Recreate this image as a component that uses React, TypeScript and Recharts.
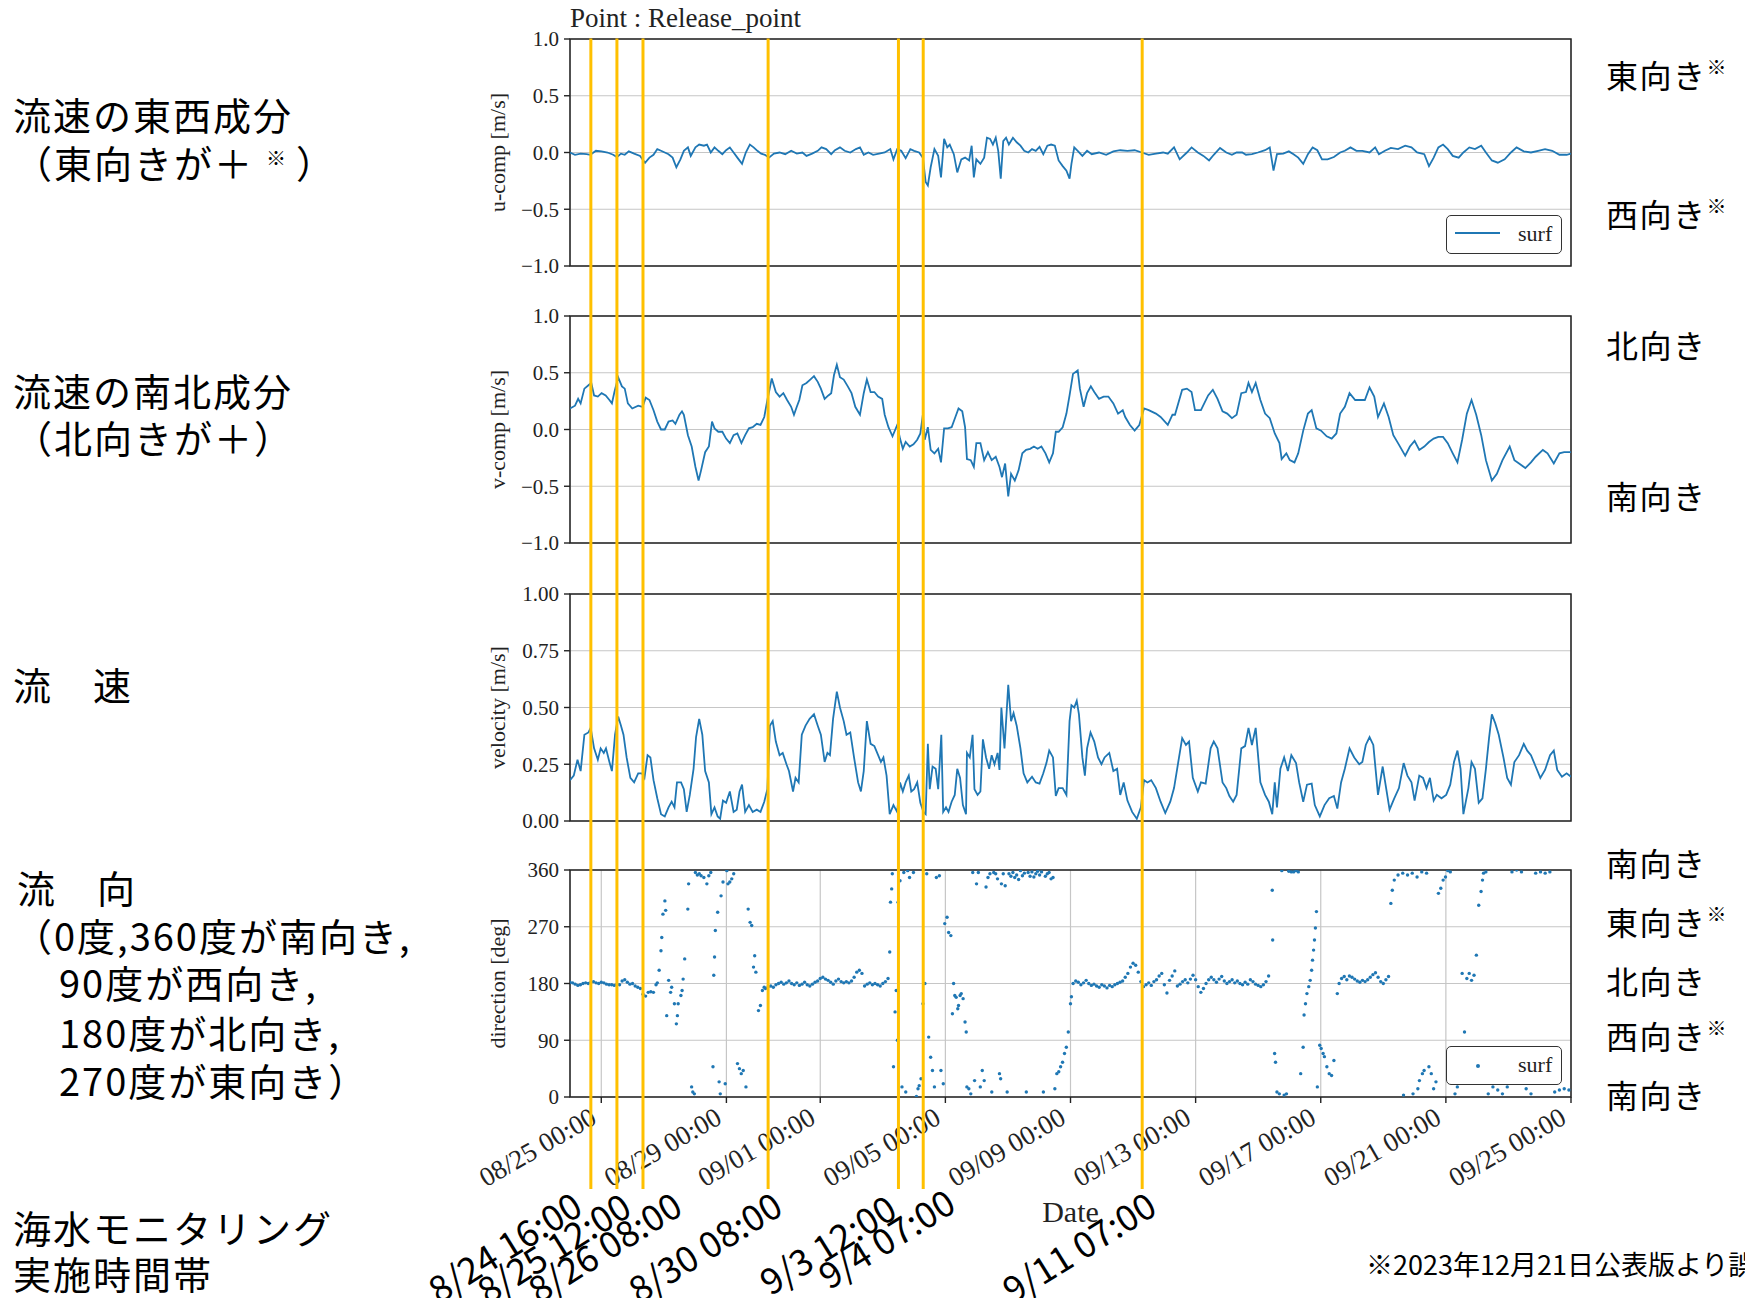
import React from 'react';
import {
  LineChart, Line, ScatterChart, Scatter, ComposedChart, XAxis, YAxis,
  CartesianGrid, ReferenceArea, ReferenceLine, Legend,
} from 'recharts';

// ---------- data (time in days since 08/24 00:00 unless noted) ----------
const DATE_TICKS = [1, 5, 8, 12, 16, 20, 24, 28, 32];
const DATE_LABELS = ['08/25 00:00', '08/29 00:00', '09/01 00:00', '09/05 00:00', '09/09 00:00', '09/13 00:00', '09/17 00:00', '09/21 00:00', '09/25 00:00'];
const COMP_TICKS = [-1, -0.5, 0, 0.5, 1];
const SPEED_TICKS = [0, 0.25, 0.5, 0.75, 1];
const DIR_TICKS = [0, 90, 180, 270, 360];

const MONITOR_DAYS = [0.6667, 1.5, 2.3333, 6.3333, 10.5, 11.2917, 18.2917];
const MONITOR_LABELS = ['8/24 16:00', '8/25 12:00', '8/26 08:00', '8/30 08:00', '9/3 12:00', '9/4 07:00', '9/11 07:00'];

const U_COMP: [number, number][] = [
  [0.00,0],[0.16,-0.02],[0.34,-0.01],[0.53,-0.015],[0.65,-0.02],[0.83,0.015],[1.01,0.01],[1.20,0],[1.38,-0.02],[1.50,-0.04],
  [1.63,-0.01],[1.75,-0.02],[1.88,0.01],[2.05,-0.01],[2.24,-0.03],[2.40,-0.09],[2.54,-0.045],[2.67,-0.02],[2.79,0.03],[2.91,0.015],
  [3.03,0],[3.15,-0.015],[3.28,-0.045],[3.40,-0.13],[3.53,-0.06],[3.64,0.015],[3.77,0.045],[3.86,-0.03],[4.01,0.045],[4.13,0.07],
  [4.28,0.06],[4.38,0.07],[4.50,0],[4.62,0.045],[4.74,0.015],[4.87,-0.015],[4.99,0.02],[5.11,0.045],[5.23,0],[5.35,-0.045],
  [5.50,-0.10],[5.62,0],[5.75,0.07],[5.87,0.045],[5.99,0.015],[6.11,-0.01],[6.23,-0.02],[6.36,-0.045],[6.52,-0.01],[6.70,0],
  [6.88,-0.015],[7.07,0.015],[7.25,-0.01],[7.43,0],[7.56,-0.03],[7.74,-0.01],[7.92,0.015],[8.04,0.045],[8.19,0.03],[8.35,-0.015],
  [8.47,0.02],[8.63,0.045],[8.78,0.015],[8.96,0],[9.14,0.03],[9.27,0.045],[9.39,-0.02],[9.54,0],[9.69,-0.02],[9.88,-0.01],
  [10.06,0],[10.24,0.03],[10.34,-0.06],[10.46,0.03],[10.59,0.015],[10.73,-0.05],[10.88,0.03],[11.00,0.015],[11.16,0],[11.28,-0.045],
  [11.37,-0.26],[11.44,-0.29],[11.53,-0.13],[11.65,0.03],[11.77,-0.03],[11.86,-0.22],[11.96,0.12],[12.06,0.045],[12.14,0.07],[12.27,-0.015],
  [12.38,-0.175],[12.51,-0.06],[12.63,-0.045],[12.76,-0.07],[12.84,0.06],[12.91,-0.22],[12.99,-0.06],[13.12,-0.10],[13.24,-0.045],[13.33,0.13],
  [13.43,0.12],[13.52,0.07],[13.61,0.13],[13.69,0.015],[13.77,-0.23],[13.85,0.10],[13.94,0.13],[14.03,0.07],[14.16,0.13],[14.28,0.09],
  [14.40,0.06],[14.52,0.015],[14.65,0],[14.77,0.03],[14.89,0.015],[15.01,0.05],[15.13,-0.015],[15.26,0.06],[15.38,0.07],[15.50,0.06],
  [15.62,-0.07],[15.75,-0.12],[15.87,-0.16],[15.97,-0.23],[16.03,-0.10],[16.12,0.045],[16.23,0.015],[16.38,-0.03],[16.53,0.015],[16.68,-0.015],
  [16.91,0],[17.14,-0.02],[17.37,0.01],[17.59,0.02],[17.82,0.015],[18.05,0.02],[18.28,0],[18.50,-0.02],[18.73,-0.01],[18.96,0],
  [19.11,-0.01],[19.31,0.045],[19.49,-0.06],[19.72,0],[19.87,0.045],[20.07,0],[20.25,-0.03],[20.43,-0.07],[20.58,-0.02],[20.78,0.04],
  [20.98,0],[21.16,-0.02],[21.31,0],[21.49,0],[21.61,-0.02],[21.80,-0.015],[21.99,0],[22.22,0.02],[22.37,0.045],[22.49,-0.16],
  [22.60,-0.015],[22.80,-0.01],[22.98,0.01],[23.13,-0.015],[23.28,-0.045],[23.44,-0.10],[23.59,-0.015],[23.74,0.045],[23.89,0.02],[24.04,-0.06],
  [24.22,-0.06],[24.42,-0.04],[24.62,0],[24.77,0.015],[24.95,0.045],[25.14,0.015],[25.33,0.015],[25.56,0],[25.74,0.045],[25.86,-0.015],
  [26.05,0.015],[26.24,0.04],[26.47,0.03],[26.70,0.06],[26.90,0.045],[27.08,0],[27.31,-0.015],[27.46,-0.12],[27.61,-0.045],[27.76,0.045],
  [27.91,0.07],[28.06,0.03],[28.22,-0.03],[28.41,-0.045],[28.56,0],[28.75,0.045],[28.93,0.03],[29.13,0.06],[29.28,0],[29.47,-0.07],
  [29.66,-0.09],[29.88,-0.06],[30.08,0],[30.26,0.045],[30.49,0.01],[30.72,0],[30.95,0.015],[31.17,0.03],[31.40,0.015],[31.63,-0.02],
  [31.86,-0.02],[32.00,-0.01],
];

const V_COMP: [number, number][] = [
  [0.00,0.185],[0.16,0.21],[0.26,0.27],[0.34,0.23],[0.46,0.36],[0.59,0.39],[0.68,0.41],[0.77,0.30],[0.89,0.29],[1.01,0.32],
  [1.14,0.30],[1.26,0.26],[1.34,0.23],[1.42,0.33],[1.54,0.46],[1.66,0.38],[1.75,0.36],[1.85,0.23],[1.99,0.185],[2.18,0.21],
  [2.32,0.20],[2.42,0.28],[2.54,0.26],[2.67,0.17],[2.79,0.07],[2.91,0.0],[3.03,0.0],[3.15,0.07],[3.28,0.08],[3.37,0.05],
  [3.50,0.13],[3.58,0.16],[3.64,0.13],[3.77,-0.05],[3.89,-0.15],[4.01,-0.33],[4.11,-0.45],[4.19,-0.36],[4.32,-0.20],[4.44,-0.15],
  [4.54,0.07],[4.62,0.01],[4.74,-0.02],[4.87,-0.02],[4.99,-0.08],[5.11,-0.12],[5.23,-0.05],[5.35,-0.035],[5.48,-0.12],[5.60,-0.05],
  [5.72,0.01],[5.84,0.02],[5.97,0.05],[6.09,0.04],[6.21,0.11],[6.31,0.26],[6.45,0.45],[6.58,0.33],[6.70,0.29],[6.82,0.32],
  [6.94,0.26],[7.07,0.20],[7.16,0.13],[7.25,0.20],[7.33,0.26],[7.43,0.39],[7.56,0.41],[7.68,0.44],[7.80,0.47],[7.92,0.42],
  [8.02,0.36],[8.14,0.27],[8.26,0.30],[8.35,0.32],[8.44,0.48],[8.53,0.57],[8.63,0.46],[8.75,0.44],[8.88,0.38],[9.00,0.32],
  [9.12,0.20],[9.27,0.13],[9.39,0.32],[9.49,0.44],[9.61,0.33],[9.73,0.33],[9.85,0.29],[9.98,0.27],[10.06,0.13],[10.18,0.02],
  [10.31,-0.06],[10.46,0.04],[10.55,-0.08],[10.64,-0.17],[10.73,-0.11],[10.86,-0.15],[10.98,-0.13],[11.10,-0.09],[11.20,-0.035],[11.28,0.13],
  [11.34,-0.09],[11.44,0.02],[11.53,-0.18],[11.65,-0.21],[11.77,-0.17],[11.86,-0.29],[11.96,0.01],[12.08,0.01],[12.20,0.02],[12.32,0.11],
  [12.42,0.185],[12.54,0.16],[12.63,0.02],[12.69,-0.26],[12.81,-0.27],[12.91,-0.33],[12.99,-0.12],[13.12,-0.12],[13.24,-0.27],[13.36,-0.20],
  [13.48,-0.27],[13.61,-0.24],[13.73,-0.33],[13.81,-0.42],[13.91,-0.30],[14.01,-0.59],[14.10,-0.39],[14.22,-0.45],[14.34,-0.36],[14.46,-0.21],
  [14.58,-0.18],[14.71,-0.17],[14.83,-0.15],[14.95,-0.17],[15.07,-0.15],[15.20,-0.21],[15.32,-0.29],[15.44,-0.21],[15.53,-0.02],[15.62,-0.02],
  [15.75,0.02],[15.87,0.14],[15.97,0.30],[16.08,0.49],[16.23,0.52],[16.30,0.36],[16.42,0.20],[16.53,0.32],[16.65,0.38],[16.76,0.33],
  [16.91,0.27],[17.06,0.29],[17.21,0.29],[17.37,0.23],[17.52,0.14],[17.67,0.17],[17.75,0.11],[17.90,0.04],[18.05,-0.01],[18.20,0.04],
  [18.35,0.185],[18.50,0.17],[18.73,0.14],[18.88,0.11],[19.11,0.04],[19.26,0.13],[19.34,0.13],[19.57,0.35],[19.72,0.36],[19.87,0.33],
  [19.98,0.17],[20.17,0.17],[20.40,0.30],[20.55,0.35],[20.70,0.27],[20.86,0.16],[21.01,0.14],[21.16,0.10],[21.31,0.13],[21.46,0.32],
  [21.61,0.33],[21.69,0.41],[21.80,0.33],[21.92,0.41],[22.07,0.26],[22.22,0.14],[22.37,0.10],[22.53,-0.035],[22.68,-0.12],[22.75,-0.26],
  [22.90,-0.21],[23.01,-0.27],[23.16,-0.29],[23.28,-0.21],[23.44,-0.01],[23.59,0.14],[23.71,0.17],[23.86,0.01],[24.01,-0.01],[24.19,-0.06],
  [24.35,-0.08],[24.50,-0.035],[24.62,0.14],[24.77,0.20],[24.92,0.32],[25.10,0.26],[25.26,0.26],[25.41,0.26],[25.56,0.37],[25.71,0.29],
  [25.83,0.11],[26.02,0.23],[26.17,0.11],[26.32,-0.05],[26.47,-0.12],[26.70,-0.23],[26.85,-0.15],[27.00,-0.10],[27.15,-0.18],[27.31,-0.15],
  [27.46,-0.11],[27.61,-0.08],[27.76,-0.065],[27.91,-0.065],[28.06,-0.12],[28.22,-0.21],[28.37,-0.29],[28.52,-0.09],[28.67,0.14],[28.82,0.26],
  [28.97,0.13],[29.13,-0.05],[29.28,-0.27],[29.47,-0.45],[29.63,-0.39],[29.81,-0.27],[30.04,-0.15],[30.19,-0.27],[30.34,-0.30],[30.54,-0.34],
  [30.72,-0.29],[30.87,-0.24],[31.10,-0.18],[31.25,-0.21],[31.45,-0.30],[31.63,-0.21],[31.78,-0.20],[32.00,-0.20],
];

const SPEED: [number, number][] = [
  [0.00,0.18],[0.12,0.20],[0.24,0.27],[0.34,0.22],[0.46,0.38],[0.59,0.39],[0.66,0.41],[0.77,0.32],[0.89,0.27],[0.98,0.32],
  [1.08,0.30],[1.15,0.32],[1.26,0.26],[1.34,0.22],[1.44,0.38],[1.54,0.46],[1.63,0.42],[1.71,0.38],[1.81,0.28],[1.93,0.19],
  [2.05,0.17],[2.18,0.21],[2.30,0.21],[2.38,0.19],[2.48,0.29],[2.57,0.28],[2.67,0.18],[2.79,0.10],[2.91,0.03],[3.03,0.02],
  [3.15,0.06],[3.25,0.085],[3.34,0.06],[3.42,0.17],[3.55,0.17],[3.64,0.14],[3.73,0.04],[3.83,0.115],[3.95,0.23],[4.03,0.37],
  [4.13,0.45],[4.23,0.38],[4.32,0.22],[4.44,0.17],[4.52,0.03],[4.62,0.06],[4.72,0.02],[4.80,0.01],[4.89,0.09],[4.99,0.08],
  [5.11,0.13],[5.23,0.04],[5.33,0.05],[5.42,0.13],[5.50,0.16],[5.60,0.04],[5.72,0.07],[5.84,0.04],[5.97,0.05],[6.09,0.04],
  [6.21,0.085],[6.31,0.14],[6.39,0.42],[6.48,0.44],[6.58,0.35],[6.70,0.29],[6.80,0.30],[6.92,0.25],[7.00,0.22],[7.13,0.13],
  [7.21,0.19],[7.31,0.17],[7.41,0.38],[7.53,0.42],[7.66,0.45],[7.80,0.47],[7.92,0.42],[8.02,0.38],[8.14,0.26],[8.23,0.30],
  [8.31,0.29],[8.41,0.45],[8.53,0.57],[8.63,0.50],[8.75,0.44],[8.84,0.38],[8.96,0.39],[9.08,0.28],[9.21,0.17],[9.30,0.13],
  [9.39,0.22],[9.49,0.44],[9.61,0.34],[9.73,0.33],[9.85,0.29],[9.94,0.26],[10.02,0.28],[10.12,0.20],[10.22,0.03],[10.34,0.07],
  [10.46,0.04],[10.55,0.17],[10.64,0.13],[10.73,0.17],[10.83,0.20],[10.91,0.13],[11.00,0.14],[11.10,0.17],[11.20,0.08],[11.30,0.04],
  [11.37,0.03],[11.44,0.34],[11.50,0.14],[11.59,0.24],[11.69,0.23],[11.77,0.14],[11.87,0.38],[11.93,0.04],[12.02,0.06],[12.10,0.04],
  [12.20,0.085],[12.30,0.115],[12.38,0.23],[12.47,0.19],[12.56,0.07],[12.66,0.03],[12.69,0.30],[12.78,0.28],[12.87,0.38],[12.93,0.14],
  [13.03,0.115],[13.12,0.13],[13.20,0.36],[13.30,0.28],[13.40,0.23],[13.48,0.29],[13.57,0.25],[13.67,0.30],[13.73,0.225],[13.79,0.50],
  [13.89,0.32],[14.01,0.60],[14.10,0.44],[14.18,0.475],[14.28,0.42],[14.40,0.32],[14.50,0.21],[14.62,0.17],[14.77,0.195],[14.89,0.17],
  [15.01,0.165],[15.13,0.21],[15.23,0.255],[15.32,0.31],[15.44,0.28],[15.53,0.11],[15.62,0.145],[15.75,0.145],[15.87,0.115],[15.97,0.44],
  [16.03,0.51],[16.12,0.50],[16.20,0.53],[16.27,0.47],[16.38,0.28],[16.46,0.20],[16.53,0.32],[16.64,0.39],[16.76,0.35],[16.88,0.28],
  [16.99,0.25],[17.09,0.28],[17.24,0.30],[17.37,0.22],[17.49,0.23],[17.59,0.115],[17.70,0.17],[17.82,0.09],[17.97,0.04],[18.12,0.01],
  [18.25,0.06],[18.35,0.18],[18.46,0.17],[18.58,0.18],[18.73,0.145],[18.88,0.085],[19.03,0.035],[19.19,0.085],[19.31,0.145],[19.41,0.23],
  [19.57,0.365],[19.69,0.335],[19.79,0.35],[19.91,0.19],[20.07,0.13],[20.17,0.17],[20.32,0.165],[20.48,0.32],[20.58,0.35],[20.70,0.32],
  [20.86,0.17],[20.98,0.145],[21.08,0.11],[21.20,0.085],[21.31,0.115],[21.46,0.32],[21.58,0.33],[21.69,0.41],[21.80,0.335],[21.92,0.41],
  [22.07,0.17],[22.22,0.115],[22.34,0.085],[22.45,0.03],[22.53,0.17],[22.60,0.06],[22.71,0.23],[22.83,0.28],[22.95,0.22],[23.06,0.29],
  [23.21,0.255],[23.31,0.17],[23.44,0.085],[23.56,0.16],[23.71,0.165],[23.81,0.07],[23.97,0.02],[24.12,0.07],[24.27,0.10],[24.42,0.11],
  [24.53,0.055],[24.65,0.17],[24.77,0.23],[24.92,0.32],[25.07,0.28],[25.23,0.25],[25.33,0.26],[25.44,0.335],[25.56,0.37],[25.68,0.335],
  [25.83,0.115],[25.98,0.24],[26.09,0.145],[26.20,0.05],[26.35,0.10],[26.50,0.145],[26.65,0.255],[26.77,0.20],[26.90,0.17],[27.00,0.09],
  [27.15,0.20],[27.27,0.19],[27.38,0.145],[27.49,0.19],[27.61,0.09],[27.71,0.115],[27.86,0.10],[28.01,0.115],[28.14,0.16],[28.26,0.26],
  [28.37,0.31],[28.47,0.23],[28.56,0.03],[28.72,0.145],[28.82,0.26],[28.93,0.23],[29.05,0.08],[29.17,0.10],[29.28,0.23],[29.38,0.365],
  [29.47,0.47],[29.58,0.43],[29.69,0.38],[29.84,0.28],[29.96,0.19],[30.08,0.16],[30.19,0.26],[30.34,0.29],[30.49,0.34],[30.60,0.31],
  [30.72,0.29],[30.87,0.24],[31.02,0.19],[31.17,0.225],[31.33,0.29],[31.45,0.31],[31.56,0.225],[31.71,0.195],[31.86,0.21],[32.00,0.195],
];

// direction: [hours since 08/24 00:00, degrees]
const DIRECTION: [number, number][] = [
  [0,182],[2,181],[4,179],[6,177],[8,178],[10,180],[12,181],[14,180],[16,182],[18,183],[20,181],[22,180],[24,182],[26,181],[28,179],
  [30,178],[32,178],[34,177],[36,179],[38,178],[40,184],[42,186],[44,182],[46,179],[48,180],[50,176],[52,174],[54,172],[56,163],[58,160],
  [60,166],[62,167],[64,166],[66,178],[67,181],
  [68.4,201],[69.8,232],[70.4,253],[71.3,290],[72.8,311],[73.4,296],[74.2,129],[75.7,185],[77.2,166],[78.0,174],[80.1,148],[81.6,116],
  [82.4,129],[83.0,148],[85.1,161],[86.0,169],[86.8,187],[88.0,219],[90.4,298],[91.0,338],[93.3,16],[94.2,8],[95.4,5],[96.2,356],
  [97.7,352],[99.2,354],[100.6,351],[102.7,348],[105.0,338],[106.5,351],[108.0,356],[109.7,48],[110.3,193],[110.9,222],[111.5,264],
  [113.3,293],[114.4,24],[115.3,5],[115.9,319],[117.4,341],[119.1,21],[120.3,359],[121.2,338],[122.6,341],[124.1,346],[125.6,354],
  [128.5,53],[130.0,45],[131.4,37],[132.9,42],[135.0,16],[136.7,298],[138.2,277],[139.4,272],[140.8,206],[141.7,224],[142.6,198],
  [144.6,137],[146.1,145],[147.6,169],[149.0,174],
  [150,172],[152,175],[154,176],[156,174],[158,178],[160,180],[162,182],[164,179],[166,181],[168,184],[170,180],[172,178],[174,181],
  [176,177],[178,179],[180,182],[182,178],[184,176],[186,179],[188,182],[190,184],[192,188],[194,190],[196,187],[198,185],[200,182],
  [202,179],[204,184],[206,187],[208,183],[210,181],[212,183],[214,181],[216,184],[218,190],[220,198],[222,201],[224,196],[226,176],
  [228,179],[230,181],[232,178],[234,180],[236,178],[238,176],[240,180],[242,183],[244,188],
  [245.3,230],[245.9,309],[246.8,330],[247.3,354],[248.2,48],[249.4,135],[250.3,169],[251.2,90],[251.7,309],[253.2,343],[254.7,16],
  [256.1,356],[257.6,8],[259.1,359],[260.5,348],[263.5,356],[265.8,1],[267.0,13],[267.9,18],[269.3,29],[270.8,148],[272.3,180],
  [273.7,354],[275.2,95],[276.7,63],[278.1,42],[279.6,16],[281.1,348],[283.4,351],[284.6,42],[286.4,21],[287.5,275],[289.3,285],
  [290.5,261],[292.2,256],[293.4,132],[294.3,180],[295.2,161],[296.3,158],[297.5,140],[298.1,145],[299.3,161],[300.2,164],[301.6,156],
  [303.1,119],[304.0,103],[304.5,16],[306.0,13],[307.5,5],[309.0,356],[310.4,26],[311.9,338],[313.3,356],[314.8,16],[316.3,42],
  [317.8,26],[319.2,333],[320.7,348],[322.2,354],[323.6,8],[325.1,356],[326.6,354],[328.0,346],[329.5,37],[330.4,29],[331.0,338],
  [332.4,354],[333.9,335],[335.4,8],[336.8,354],[338.3,350],[339.8,356],[341.2,348],[342.7,352],[344.2,345],[345.6,359],[347.1,351],
  [348.6,355],[350.1,8],[351.5,356],[353.0,350],[354.4,357],[355.9,349],[357.4,354],[358.8,358],[360.3,352],[361.8,357],[363.2,8],
  [364.7,350],[366.2,354],[367.6,356],[369.1,346],[370.6,348],[372.0,13],[373.5,37],[375.0,40],[376.4,48],[377.9,55],[379.4,69],
  [380.8,79],[382.3,103],[384.0,148],[384.7,159],
  [386,180],[388,184],[390,182],[392,178],[394,181],[396,185],[398,180],[400,177],[402,179],[404,176],[406,174],[408,178],[410,176],
  [412,173],[414,177],[416,175],[418,178],[420,180],[422,182],[424,184],[426,190],[428,196],[430,206],[432,212],[434,209],[436,198],
  [438,183],[440,175],[442,178],[444,181],[446,177],[448,183],[450,186],[452,192],[454,196],[456,178],[458,165],[460,185],[462,192],
  [464,200],[466,176],[468,179],[470,183],[472,186],[474,181],[476,187],[478,193],[480,186],[482,175],[484,166],[486,172],[488,180],
  [490,186],[492,190],[494,186],[496,182],[498,187],[500,191],[502,184],[504,180],[506,183],[508,186],[510,181],[512,184],[514,180],
  [516,178],[518,182],[520,179],[522,186],[524,183],[526,179],[528,177],[530,175],[532,178],[534,183],[536,192],
  [538.8,328],[539.1,249],[540.6,69],[541.3,55],[542.4,8],[544.2,5],[546.1,359],[547.9,3],[549.7,5],[551.5,358],[553.4,357],
  [555.2,357],[557.0,359],[558.8,357],[560.6,37],[562.5,79],[563.2,130],[564.3,148],[565.4,164],[566.8,175],[567.9,185],[569.0,201],
  [569.7,217],[570.5,233],[571.2,249],[571.9,268],[572.7,294],[573.4,16],[575.2,82],[576.3,77],[577.8,69],[578.8,64],[580.7,48],
  [582.5,37],[584.3,34],[586.1,58],[588.7,164],[590.1,180],
  [592,188],[594,191],[596,186],[598,192],[600,190],[602,187],[604,184],[606,182],[608,185],[610,183],[612,186],[614,190],[616,194],
  [618,197],[620,190],[622,183],[624,180],[626,186],[628,191],
  [629.8,307],[630.9,328],[632.4,344],[635.3,352],[638.9,355],[639.5,3],[642.6,352],[646.2,355],[646.8,5],[649.9,349],[650.5,13],
  [651.7,26],[653.5,357],[654.0,37],[655.3,42],[657.2,355],[659.0,48],[660.8,37],[662.6,13],[664.4,24],[666.3,323],[668.1,331],
  [669.9,344],[671.7,349],[673.5,359],[675.4,357],[679.0,5],[680.8,16],[684.5,196],[686.3,103],[688.1,188],[689.9,196],[691.7,185],
  [693.6,193],[695.4,225],[697.2,304],[699.0,326],[700.1,344],[700.9,355],[702.7,357],[704.5,5],[708.1,16],[711.8,11],[715.4,5],
  [719.1,16],[722.7,357],[726.3,360],[730.0,357],[733.6,13],[737.3,5],[740.9,355],[744.6,357],[748.2,355],[751.8,357],[755.5,8],
  [759.1,11],[762.8,13],[766.4,11],
];

// ---------- layout / style ----------
const W = 1745, H = 1298;
const PLOT_L = 570, PLOT_R = 1571, PANEL_H = 227, PAD_T = 20, YAXIS_W = 70;
const PANEL_TOPS = [38.5, 316, 594, 869.5];
const LINES_BOTTOM = 1189;
const ANNOT_NUDGE: [number, number][] = [[-6, 24], [17, 25], [42, 24], [17, 24], [1, 27], [35, 21], [17, 24]];
const BLUE = '#1f77b4', INK = '#222222', GRID = '#c6c6c6', GOLD = '#FFC000';
const SERIF = '"Liberation Serif", "Times New Roman", serif';
const SANS = '"Noto Sans CJK JP", "Noto Sans", sans-serif';

const uRows = U_COMP.map(([t, v]) => ({ t, v }));
const vRows = V_COMP.map(([t, v]) => ({ t, v }));
const sRows = SPEED.map(([t, v]) => ({ t, v }));
const dRows = DIRECTION.map(([h, d]) => ({ t: h / 24, d }));
const mRows = MONITOR_DAYS.map((t) => ({ t, y: 0 }));

const fmt1 = (v: number) => v.toFixed(1).replace('-', '\u2212');
const fmt2 = (v: number) => v.toFixed(2);
const fmt0 = (v: number) => String(v);

const yLabel = (text: string) => (props: any) => {
  const vb = props.viewBox || {};
  const cx = (vb.x ?? PLOT_L - YAXIS_W) - 3;
  const cy = (vb.y ?? 0) + (vb.height ?? 0) / 2;
  return (
    <text transform={`translate(${cx},${cy}) rotate(-90)`} textAnchor="middle" dominantBaseline="central"
      fontFamily={SERIF} fontSize={22} fill={INK}>{text}</text>
  );
};

function LegendBox({ kind }: { kind: 'line' | 'dot' }) {
  return (
    <div style={{ boxSizing: 'border-box', width: 116, height: 39, border: '1.6px solid #333', borderRadius: 5,
      background: '#fff', position: 'relative', fontFamily: SERIF, fontSize: 22, color: INK }}>
      {kind === 'line'
        ? <div style={{ position: 'absolute', left: 8, top: 16, width: 45, height: 0, borderTop: `2px solid ${BLUE}` }} />
        : <div style={{ position: 'absolute', left: 29, top: 17, width: 4, height: 4, borderRadius: 2, background: BLUE }} />}
      <span style={{ position: 'absolute', left: 71, top: 4, lineHeight: '28px' }}>surf</span>
    </div>
  );
}

type PanelProps = {
  top: number; rows: { t: number; v: number }[]; domain: [number, number]; ticks: number[];
  fmt: (v: number) => string; label: string; legend?: boolean;
};

function LinePanel({ top, rows, domain, ticks, fmt, label, legend }: PanelProps) {
  const xh = 20;
  return (
    <div style={{ position: 'absolute', left: 0, top: top - PAD_T }}>
      <LineChart width={W} height={PAD_T + PANEL_H + xh} data={rows}
        margin={{ top: PAD_T, right: W - PLOT_R, bottom: 0, left: PLOT_L - YAXIS_W }}>
        <CartesianGrid stroke={GRID} strokeWidth={1.2} />
        <XAxis dataKey="t" type="number" domain={[0, 32]} ticks={DATE_TICKS} interval={0} allowDataOverflow height={xh}
          axisLine={false} tick={false} tickSize={6} tickLine={{ stroke: INK, strokeWidth: 1.4 }} />
        <YAxis type="number" domain={domain} ticks={ticks} interval={0} allowDataOverflow width={YAXIS_W} axisLine={false}
          tickSize={6} tickMargin={5} tickLine={{ stroke: INK, strokeWidth: 1.4 }} tickFormatter={fmt}
          tick={{ fontFamily: SERIF, fontSize: 21, fill: INK }} label={{ content: yLabel(label) }} />
        <ReferenceArea x1={0} x2={32} y1={domain[0]} y2={domain[1]} fill="none" fillOpacity={0} stroke={INK} strokeWidth={1.5} />
        <Line dataKey="v" type="linear" stroke={BLUE} strokeWidth={1.8} dot={false} activeDot={false} isAnimationActive={false} />
        {legend && (
          <Legend layout="vertical" align="center" verticalAlign="middle"
            wrapperStyle={{ left: 1446, top: 196.5, width: 116, height: 39 }}
            content={() => <LegendBox kind="line" />} />
        )}
      </LineChart>
    </div>
  );
}

const DateTick = (props: any) => {
  const { x, y, payload } = props;
  const i = DATE_TICKS.indexOf(payload.value);
  return (
    <text transform={`translate(${x - 3},${y + 17.5}) rotate(-30)`} textAnchor="end"
      fontFamily={SERIF} fontSize={27} fill={INK}>{DATE_LABELS[i]}</text>
  );
};

const dateLabel = (props: any) => {
  const vb = props.viewBox || {};
  return (
    <text x={(vb.x ?? PLOT_L) + (vb.width ?? 0) / 2} y={(vb.y ?? 0) + 124.5} textAnchor="middle"
      fontFamily={SERIF} fontSize={30} fill={INK}>Date</text>
  );
};

function DirPanel() {
  const xh = 140;
  return (
    <div style={{ position: 'absolute', left: 0, top: PANEL_TOPS[3] - PAD_T }}>
      <ScatterChart width={W} height={PAD_T + PANEL_H + xh}
        margin={{ top: PAD_T, right: W - PLOT_R, bottom: 0, left: PLOT_L - YAXIS_W }}>
        <CartesianGrid stroke={GRID} strokeWidth={1.2} />
        <XAxis dataKey="t" type="number" domain={[0, 32]} ticks={DATE_TICKS} interval={0} allowDataOverflow height={xh}
          axisLine={false} tickSize={6} tickLine={{ stroke: INK, strokeWidth: 1.4 }}
          tick={(p: any) => <DateTick {...p} />} label={{ content: dateLabel }} />
        <YAxis dataKey="d" type="number" domain={[0, 360]} ticks={DIR_TICKS} interval={0} allowDataOverflow width={YAXIS_W}
          axisLine={false} tickSize={6} tickMargin={5} tickLine={{ stroke: INK, strokeWidth: 1.4 }} tickFormatter={fmt0}
          tick={{ fontFamily: SERIF, fontSize: 21, fill: INK }} label={{ content: yLabel('direction [deg]') }} />
        <ReferenceArea x1={0} x2={32} y1={0} y2={360} fill="none" fillOpacity={0} stroke={INK} strokeWidth={1.5} />
        <Scatter data={dRows} isAnimationActive={false}
          shape={(p: any) => <circle cx={p.cx} cy={p.cy} r={1.7} fill={BLUE} />} />
        <Legend layout="vertical" align="center" verticalAlign="middle"
          wrapperStyle={{ left: 1446, top: 196.5, width: 116, height: 39 }}
          content={() => <LegendBox kind="dot" />} />
      </ScatterChart>
    </div>
  );
}

function MonitorOverlay() {
  return (
    <div style={{ position: 'absolute', left: 0, top: 0, pointerEvents: 'none' }}>
      <ComposedChart width={W} height={H} data={mRows}
        margin={{ top: PANEL_TOPS[0], right: W - PLOT_R, bottom: H - LINES_BOTTOM, left: PLOT_L }}>
        <XAxis dataKey="t" type="number" domain={[0, 32]} allowDataOverflow hide />
        <YAxis type="number" domain={[0, 1]} allowDataOverflow hide />
        <Line dataKey="y" stroke="none" dot={false} activeDot={false} isAnimationActive={false} />
        {MONITOR_DAYS.map((d, i) => (
          <ReferenceLine key={i} x={d} stroke={GOLD} strokeWidth={3}
            label={(p: any) => {
              const vb = p.viewBox || {};
              const ax = (vb.x ?? 0) + ANNOT_NUDGE[i][0];
              const ay = (vb.y ?? 0) + (vb.height ?? 0) + ANNOT_NUDGE[i][1];
              return (
                <text transform={`translate(${ax},${ay}) rotate(-32)`} textAnchor="end"
                  fontFamily={SANS} fontSize={36} fill="#000">{MONITOR_LABELS[i]}</text>
              );
            }} />
        ))}
      </ComposedChart>
    </div>
  );
}

const JP = { fontFamily: SANS, fill: '#000', dominantBaseline: 'central' as const };

function TextLayer() {
  const left = { ...JP, fontSize: 38, letterSpacing: 2 };
  const right = { ...JP, fontSize: 32, letterSpacing: 1.5 };
  const star = () => <tspan fontSize={20} dy={-8}>※</tspan>;
  return (
    <svg width={W} height={H} style={{ position: 'absolute', left: 0, top: 0 }}>
      <text x={PLOT_L} y={27} fontFamily={SERIF} fontSize={27} fill={INK}>Point : Release_point</text>

      <text x={13} y={113} {...left}>流速の東西成分</text>
      <text x={14} y={161} {...left}>（東向きが＋</text>
      <text x={266} y={157} {...JP} fontSize={20}>※</text>
      <text x={296} y={161} {...left}>）</text>
      <text x={13} y={389} {...left}>流速の南北成分</text>
      <text x={14} y={436} {...left}>（北向きが＋）</text>
      <text x={13} y={683} {...left}>流　速</text>
      <text x={17} y={886} {...left}>流　向</text>
      <text x={14} y={934} {...left}>（0度,360度が南向き,</text>
      <text x={59} y={981} {...left}>90度が西向き,</text>
      <text x={59} y={1031} {...left}>180度が北向き,</text>
      <text x={59} y={1079} {...left}>270度が東向き）</text>
      <text x={13} y={1226} {...left}>海水モニタリング</text>
      <text x={13} y={1272} {...left}>実施時間帯</text>

      <text x={1606} y={74} {...right}>東向き{star()}</text>
      <text x={1606} y={213} {...right}>西向き{star()}</text>
      <text x={1606} y={344} {...right}>北向き</text>
      <text x={1606} y={495} {...right}>南向き</text>
      <text x={1606} y={862} {...right}>南向き</text>
      <text x={1606} y={921} {...right}>東向き{star()}</text>
      <text x={1606} y={980} {...right}>北向き</text>
      <text x={1606} y={1035} {...right}>西向き{star()}</text>
      <text x={1606} y={1094} {...right}>南向き</text>

      <text x={1366} y={1263} {...JP} fontSize={27}>※2023年12月21日公表版より誤</text>
    </svg>
  );
}

export default function App() {
  return (
    <div style={{ position: 'absolute', left: 0, top: 0, width: W, height: H, overflow: 'hidden', background: '#fff' }}>
      <LinePanel top={PANEL_TOPS[0]} rows={uRows} domain={[-1, 1]} ticks={COMP_TICKS} fmt={fmt1} label="u-comp [m/s]" legend />
      <LinePanel top={PANEL_TOPS[1]} rows={vRows} domain={[-1, 1]} ticks={COMP_TICKS} fmt={fmt1} label="v-comp [m/s]" />
      <LinePanel top={PANEL_TOPS[2]} rows={sRows} domain={[0, 1]} ticks={SPEED_TICKS} fmt={fmt2} label="velocity [m/s]" />
      <DirPanel />
      <TextLayer />
      <MonitorOverlay />
    </div>
  );
}
